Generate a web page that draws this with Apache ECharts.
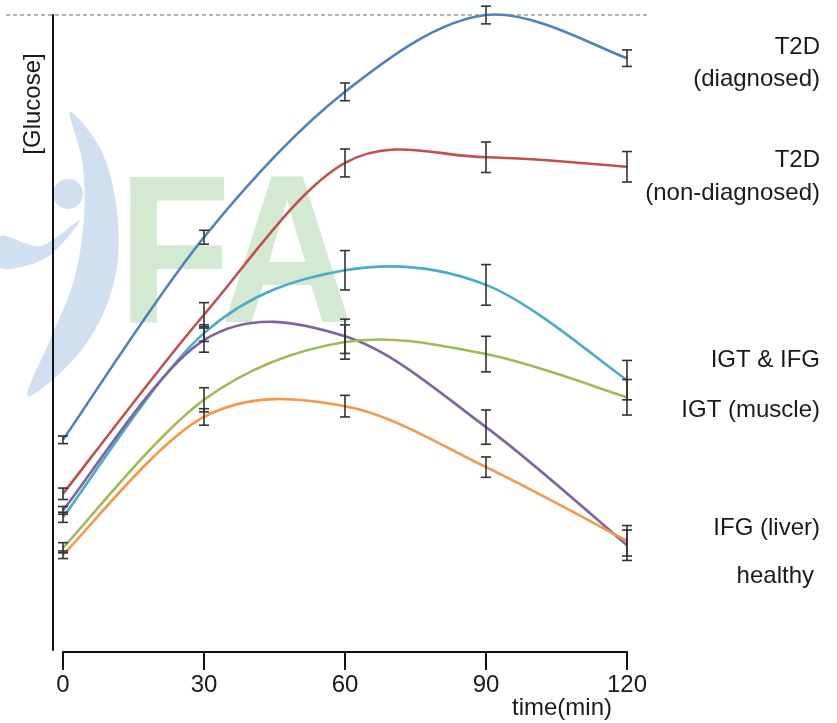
<!DOCTYPE html>
<html>
<head>
<meta charset="utf-8">
<script src="https://cdn.jsdelivr.net/npm/echarts@6/dist/echarts.min.js"></script>
<style>
  html, body { margin: 0; padding: 0; background: #fff; }
  #chart { width: 837px; height: 723px; }
</style>
</head>
<body>
<div id="chart"></div>
<script>
  // time points (min)
  var times = [0, 30, 60, 90, 120];
  var xTicks = [0, 30, 60, 90, 120];

  // glucose, arbitrary units
  var t2dDiag = [33.1, 65.0, 87.9, 100, 93.2];
  var t2dDiagErr = [0.6, 1.1, 1.4, 1.4, 1.3];
  var t2dNon = [24.6, 52.8, 76.7, 77.6, 76.1];
  var t2dNonErr = [0.9, 1.9, 2.2, 2.4, 2.4];
  var igtIfg = [20.9, 49.9, 59.8, 57.5, 42.5];
  var igtIfgErr = [0.8, 1.3, 3.1, 3.2, 3.1];
  var ifgLiver = [22.0, 48.8, 49.4, 35.1, 16.5];
  var ifgLiverErr = [0.6, 1.9, 2.7, 2.7, 2.4];
  var igtMuscle = [16.1, 39.4, 48.5, 46.6, 39.8];
  var igtMuscleErr = [0.8, 1.9, 2.7, 2.8, 2.8];
  var healthy = [15.0, 36.7, 38.4, 28.8, 17.2];
  var healthyErr = [0.6, 1.3, 1.7, 1.6, 2.4];

  var groups = [
    {name: 'T2D (diagnosed)', vals: t2dDiag, err: t2dDiagErr, color: '#4f81bd'},
    {name: 'T2D (non-diagnosed)', vals: t2dNon, err: t2dNonErr, color: '#c0504d'},
    {name: 'IGT & IFG', vals: igtIfg, err: igtIfgErr, color: '#4bacc6'},
    {name: 'IFG (liver)', vals: ifgLiver, err: ifgLiverErr, color: '#8064a2'},
    {name: 'IGT (muscle)', vals: igtMuscle, err: igtMuscleErr, color: '#9bbb59'},
    {name: 'healthy', vals: healthy, err: healthyErr, color: '#f79646'}
  ];

  var font = '"Liberation Sans", Arial, sans-serif';
  var txt = '#1a1a1a';

  // catmull-rom style curve through the points, one bezier per segment
  function curveRenderer(g) {
    return function (params, api) {
      var i = params.dataIndex;
      var n = times.length;
      if (i >= n - 1) return {type: 'group', children: []};
      var p = times.map(function (t, j) { return api.coord([t, g.vals[j]]); });
      var p0 = p[i > 0 ? i - 1 : i], p1 = p[i], p2 = p[i + 1], p3 = p[i + 2 < n ? i + 2 : i + 1];
      return {
        type: 'bezierCurve',
        shape: {
          x1: p1[0], y1: p1[1], x2: p2[0], y2: p2[1],
          cpx1: p1[0] + (p2[0] - p0[0]) / 6, cpy1: p1[1] + (p2[1] - p0[1]) / 6,
          cpx2: p2[0] - (p3[0] - p1[0]) / 6, cpy2: p2[1] - (p3[1] - p1[1]) / 6
        },
        style: {stroke: g.color, lineWidth: 2.6, fill: 'none'}
      };
    };
  }

  function errorBars(params, api) {
    var x = api.value(0), y = api.value(1), e = api.value(2);
    var hi = api.coord([x, y + e]);
    var lo = api.coord([x, y - e]);
    var w = 5;
    var st = {stroke: '#333', lineWidth: 1.6};
    return {
      type: 'group',
      children: [
        {type: 'line', shape: {x1: hi[0], y1: hi[1], x2: lo[0], y2: lo[1]}, style: st},
        {type: 'line', shape: {x1: hi[0] - w, y1: hi[1], x2: hi[0] + w, y2: hi[1]}, style: st},
        {type: 'line', shape: {x1: lo[0] - w, y1: lo[1], x2: lo[0] + w, y2: lo[1]}, style: st}
      ]
    };
  }

  var series = [];
  groups.forEach(function (g) {
    series.push({
      name: g.name,
      type: 'custom',
      z: 3,
      renderItem: curveRenderer(g),
      encode: {x: 0, y: 1},
      data: times.map(function (t, i) { return [t, g.vals[i]]; })
    });
  });
  groups.forEach(function (g) {
    series.push({
      name: g.name + ' err',
      type: 'custom',
      z: 4,
      renderItem: errorBars,
      encode: {x: 0, y: 1},
      data: times.map(function (t, i) { return [t, g.vals[i], g.err[i]]; })
    });
  });

  var labelStyle = {fill: txt, font: '24px ' + font, align: 'right'};
  var logoBlue = {fill: '#c8dbef', opacity: 0.85};

  var chart = echarts.init(document.getElementById('chart'));
  var option = {
    backgroundColor: '#fff',
    animation: false,
    grid: {left: 63, right: 210, top: 15, bottom: 73},
    xAxis: {
      type: 'value',
      min: 0,
      max: 120,
      interval: 30,
      offset: 2,
      axisLine: {show: true, onZero: false, lineStyle: {color: '#111', width: 2}},
      axisTick: {show: true, length: 18, lineStyle: {color: '#111', width: 2}},
      axisLabel: {
        fontFamily: font, fontSize: 24, color: txt, margin: 21,
        formatter: function (v) { return xTicks.indexOf(v) >= 0 ? String(v) : ''; }
      },
      splitLine: {show: false}
    },
    yAxis: {
      type: 'value',
      min: 0,
      max: 100,
      offset: 10,
      axisLine: {show: true, onZero: false, lineStyle: {color: '#111', width: 2}},
      axisTick: {show: false},
      axisLabel: {show: false},
      splitLine: {show: false}
    },
    graphic: [
      // faint logo watermark behind the curves
      {
        type: 'polygon', z: -2, silent: true,
        shape: {
          points: [[70, 112], [102, 152], [118, 222], [112, 290], [80, 352], [28, 396],
                   [50, 340], [74, 280], [84, 215], [82, 160]],
          smooth: 0.35
        },
        style: logoBlue
      },
      {
        type: 'polygon', z: -2, silent: true,
        shape: {points: [[0, 236], [40, 246], [80, 220], [46, 258], [0, 268]], smooth: 0.3},
        style: logoBlue
      },
      {
        type: 'circle', z: -2, silent: true,
        shape: {cx: 68, cy: 194, r: 15},
        style: logoBlue
      },
      {
        type: 'text', z: -1, silent: true,
        x: 118, y: 158, scaleX: 0.87,
        style: {text: 'FA', fill: '#d3e9d1', font: 'bold 212px ' + font}
      },
      {
        type: 'text', x: 33, y: 104, rotation: Math.PI / 2,
        style: {text: '[Glucose]', fill: txt, font: '24px ' + font, align: 'center', verticalAlign: 'middle'}
      },
      {type: 'text', x: 820, y: 31, style: Object.assign({text: 'T2D\n(diagnosed)', lineHeight: 32}, labelStyle)},
      {type: 'text', x: 820, y: 144, style: Object.assign({text: 'T2D\n(non-diagnosed)', lineHeight: 33}, labelStyle)},
      {type: 'text', x: 820, y: 360, style: Object.assign({text: 'IGT & IFG', verticalAlign: 'middle'}, labelStyle)},
      {type: 'text', x: 820, y: 410, style: Object.assign({text: 'IGT (muscle)', verticalAlign: 'middle'}, labelStyle)},
      {type: 'text', x: 820, y: 528, style: Object.assign({text: 'IFG (liver)', verticalAlign: 'middle'}, labelStyle)},
      {type: 'text', x: 814, y: 576, style: Object.assign({text: 'healthy', verticalAlign: 'middle'}, labelStyle)}
    ],
    series: series
  };
  chart.setOption(option);

  // dashed reference line at the top of the scale, axis name under the end of the x axis
  var topY = chart.convertToPixel({yAxisIndex: 0}, 100);
  var endX = chart.convertToPixel({xAxisIndex: 0}, 120);
  chart.setOption({
    graphic: [
      {
        id: 'topRef', type: 'line', z: 1, silent: true,
        shape: {x1: 6, y1: topY, x2: 648, y2: topY},
        style: {stroke: '#9a9a9a', lineWidth: 1.5, lineDash: [4, 3]}
      },
      {
        id: 'xName', type: 'text', x: endX - 15, y: 708,
        style: {text: 'time(min)', fill: txt, font: '24px ' + font, align: 'right', verticalAlign: 'middle'}
      }
    ]
  });
</script>
</body>
</html>
